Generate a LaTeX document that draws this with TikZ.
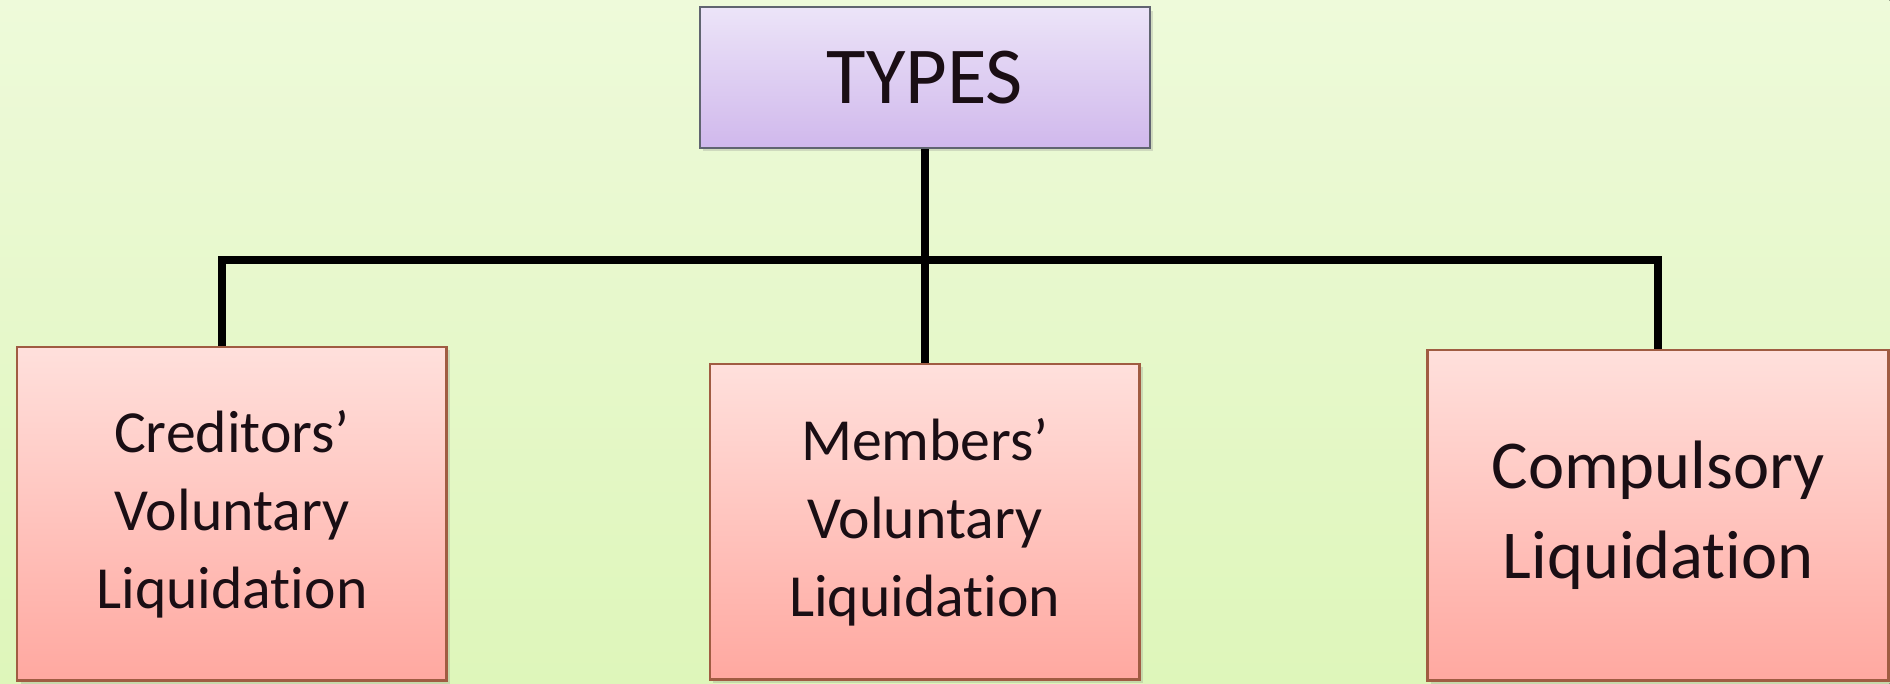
\documentclass[tikz,border=0pt]{standalone}
\usepackage{fontspec}
\setmainfont{Carlito}[Ligatures=NoCommon]
\definecolor{bgtop}{RGB}{238, 250, 218}
\definecolor{bgbottom}{RGB}{222, 246, 186}
\definecolor{typestop}{RGB}{236, 228, 248}
\definecolor{typesbottom}{RGB}{208, 184, 236}
\definecolor{typesedge}{RGB}{96, 100, 112}
\definecolor{kindtop}{RGB}{255, 224, 220}
\definecolor{kindbottom}{RGB}{255, 168, 160}
\definecolor{kindedge}{RGB}{160, 92, 66}
\definecolor{inkdark}{RGB}{26, 14, 20}
\usetikzlibrary{shadows, positioning}

\begin{document}
\begin{tikzpicture}[x=0.02cm, y=-0.02cm,
  headbox/.style={draw=typesedge, line width=1.2pt, top color=typestop, bottom color=typesbottom, minimum width=9cm, minimum height=2.82cm, text=inkdark, font=\fontsize{46}{50}\selectfont, drop shadow={opacity=0.25, shadow xshift=2pt, shadow yshift=-2pt}},
  kindbox/.style={draw=kindedge, line width=1.6pt, top color=kindtop, bottom color=kindbottom, align=center, text=inkdark, inner sep=0pt, drop shadow={opacity=0.25, shadow xshift=2pt, shadow yshift=-2pt}},
  branch/.style={line width=4.5pt, line join=miter, black}
]
  % Background
  \fill[top color=bgtop, bottom color=bgbottom] (0,0) rectangle (1890,684);

  % Top node
  \node[headbox] (types) at (925, 77.5) {TYPES};

  % Creditors' voluntary
  \node[kindbox, minimum width=8.6cm, minimum height=6.68cm, font=\fontsize{34}{44.4}\selectfont] (creditors) at (232, 514) {
    Creditors’\\
    Voluntary\\
    Liquidation
  };

  % Members' voluntary
  \node[kindbox, minimum width=8.6cm, minimum height=6.32cm, font=\fontsize{34}{44.4}\selectfont] (members) at (925, 522) {
    Members’\\
    Voluntary\\
    Liquidation
  };

  % Compulsory
  \node[kindbox, minimum width=9.22cm, minimum height=6.62cm, font=\fontsize{39}{51}\selectfont] (compulsory) at (1658.5, 515.5) {
    Compulsory\\
    Liquidation
  };

  % Connectors
  \coordinate (hub) at (925, 260);
  \coordinate (leftdrop) at ([xshift=-0.2cm]creditors.north);
  \draw[branch] (types.south) -- (hub) -- (members.north);
  \draw[branch] (leftdrop) -- (leftdrop |- hub) -- (compulsory.north |- hub) -- (compulsory.north);
\end{tikzpicture}
\end{document}
